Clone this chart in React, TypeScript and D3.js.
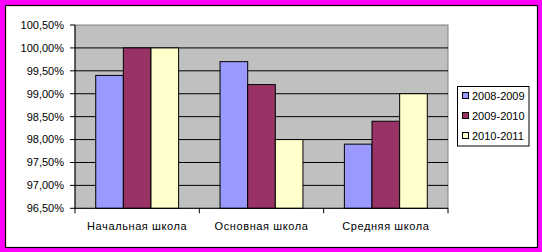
import React from "react";
import * as d3 from "d3";

const categories = ["Начальная школа", "Основная школа", "Средняя школа"];
const seriesNames = ["2008-2009", "2009-2010", "2010-2011"];
const values2008 = [99.4, 99.7, 97.9];
const values2009 = [100.0, 99.2, 98.4];
const values2010 = [100.0, 98.0, 99.0];
const yTicks = [96.5, 97, 97.5, 98, 98.5, 99, 99.5, 100, 100.5];
const colors = ["#9999FF", "#993366", "#FFFFCC"];

const W = 542, H = 252;
const plot = { left: 75, top: 25, right: 448, bottom: 208.3 };

export default function App() {
  const series = [values2008, values2009, values2010];
  const x = d3.scaleBand<string>().domain(categories).range([plot.left, plot.right]).paddingInner(0).paddingOuter(0);
  const y = d3.scaleLinear().domain([96.5, 100.5]).range([plot.bottom, plot.top]);
  const bw = x.bandwidth() / 4.5;
  const fmt = (v: number) => v.toFixed(2).replace(".", ",") + "%";
  const font = "'Liberation Sans', Arial, sans-serif";
  return (
    <svg width={W} height={H} style={{ position: "absolute", left: 0, top: 0 }} fontFamily={font}>
      <rect x={0} y={0} width={W} height={H} fill="#FF00FF" />
      <rect x={5.5} y={5.5} width={532} height={242} fill="#FFFFFF" stroke="#000" strokeWidth={1.2} />
      <rect x={plot.left} y={plot.top} width={plot.right - plot.left} height={plot.bottom - plot.top} fill="#C0C0C0" stroke="#808080" strokeWidth={1} />
      {yTicks.map((t) => (
        <g key={t}>
          {t > 96.5 && t < 100.5 && (
            <line x1={plot.left} x2={plot.right} y1={y(t)} y2={y(t)} stroke="#000" strokeWidth={1} />
          )}
          <line x1={plot.left - 5} x2={plot.left} y1={y(t)} y2={y(t)} stroke="#000" strokeWidth={1} />
          <text x={64} y={y(t)} dy="0.35em" textAnchor="end" fontSize={11} fill="#000">{fmt(t)}</text>
        </g>
      ))}
      {categories.map((c, i) => (
        <g key={c}>
          {series.map((s, j) => {
            const x0 = (x(c) as number) + bw * 0.75 + j * bw;
            return (
              <rect key={j} x={x0} y={y(s[i])} width={bw} height={plot.bottom - y(s[i])} fill={colors[j]} stroke="#000" strokeWidth={1} />
            );
          })}
          <text x={(x(c) as number) + x.bandwidth() / 2} y={230} textAnchor="middle" fontSize={11} letterSpacing={0.6} fill="#000">{c}</text>
        </g>
      ))}
      <line x1={plot.left} x2={plot.left} y1={plot.top} y2={plot.bottom} stroke="#000" strokeWidth={1} />
      <line x1={plot.left} x2={plot.right} y1={plot.bottom} y2={plot.bottom} stroke="#000" strokeWidth={1} />
      {[...categories.map((c) => x(c) as number), plot.right].map((v, i) => (
        <line key={i} x1={v} x2={v} y1={plot.bottom} y2={plot.bottom + 5} stroke="#000" strokeWidth={1} />
      ))}
      <rect x={457.5} y={86.5} width={71.5} height={59.5} fill="#FFFFFF" stroke="#000" strokeWidth={1} />
      {seriesNames.map((n, j) => (
        <g key={n}>
          <rect x={462.5} y={92.5 + j * 20} width={6} height={6} fill={colors[j]} stroke="#000" strokeWidth={1} />
          <text x={472} y={96 + j * 20} dy="0.35em" fontSize={11} fill="#000">{n}</text>
        </g>
      ))}
    </svg>
  );
}
